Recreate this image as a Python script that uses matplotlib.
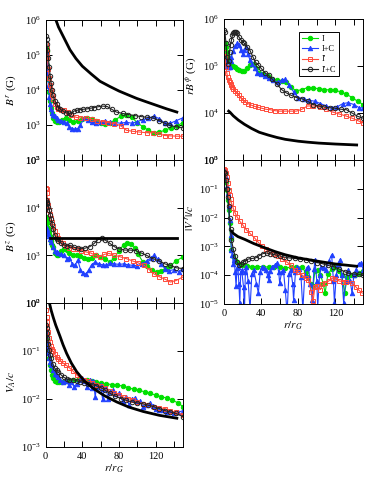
import numpy as np
import matplotlib
matplotlib.use("Agg")
from matplotlib import pyplot as plt
from matplotlib.ticker import LogLocator, NullLocator, MultipleLocator, NullFormatter

plt.rcParams['font.family'] = 'Liberation Serif'
plt.rcParams['mathtext.fontset'] = 'stix'

# ---- data: (r/r_G, log10 value) ----
# B^r panel
br_I = [(0.5,5.2),(1,5.1),(1.5,4.9),(2,4.7),(3,4.3),(4,3.95),(5,3.7),(6,3.5),(7,3.35),(8,3.2),(10,3.12),(12,3.1),(15,3.1),(18,3.15),(22,3.2),(26,3.15),(30,3.1),(35,3.12),(40,3.18),(45,3.2),(50,3.18),(55,3.12),(60,3.05),(65,3.02),(70,3.06),(76,3.15),(82,3.25),(88,3.3),(94,3.22),(100,3.06),(106,2.95),(112,2.85),(118,2.78),(124,2.8),(130,2.85),(137,2.92),(143,2.98),(150,3.07)]
br_IC = [(0.5,5.1),(1,5.0),(1.5,4.75),(2,4.5),(3,4.1),(4,3.8),(5,3.6),(6,3.45),(7,3.35),(8,3.3),(10,3.25),(12,3.2),(14,3.15),(17,3.12),(20,3.1),(23,3.05),(26,2.95),(29,2.9),(32,2.88),(35,2.9),(38,3.0),(42,3.2),(46,3.15),(50,3.1),(55,3.05),(60,3.1),(65,3.12),(70,3.08),(76,3.07),(82,3.05),(88,3.08),(94,3.05),(100,3.1),(106,3.15),(112,3.2),(118,3.25),(124,3.18),(130,3.05),(136,3.05),(142,3.12),(150,3.21)]
br_Ip = [(0.5,5.3),(1,5.2),(1.5,5.05),(2,4.9),(3,4.6),(4,4.35),(5,4.15),(6,4.0),(7,3.85),(8,3.75),(10,3.6),(12,3.52),(14,3.46),(17,3.44),(20,3.42),(24,3.38),(28,3.3),(33,3.22),(38,3.2),(44,3.2),(50,3.16),(56,3.12),(62,3.1),(68,3.07),(75,3.04),(82,2.98),(88,2.85),(95,2.82),(102,2.8),(110,2.78),(117,2.78),(124,2.74),(130,2.7),(136,2.69),(143,2.68),(150,2.68)]
br_IpC = [(0.5,5.55),(1,5.45),(1.5,5.3),(2,5.15),(3,4.9),(4,4.65),(5,4.4),(6,4.2),(7,4.0),(8,3.85),(10,3.7),(12,3.6),(14,3.5),(16,3.45),(19,3.4),(22,3.35),(25,3.33),(28,3.32),(31,3.4),(34,3.42),(37,3.44),(41,3.45),(45,3.46),(49,3.48),(53,3.5),(57,3.52),(62,3.54),(67,3.53),(72,3.45),(77,3.37),(84,3.33),(90,3.3),(97,3.27),(104,3.24),(111,3.22),(117,3.2),(124,3.12),(130,3.05),(135,2.99),(142,2.95),(150,2.92)]
br_model = [(10,6.05),(11.2,6.0),(14,5.8),(19.2,5.53),(26.5,5.15),(33,4.9),(40,4.68),(50,4.45),(59.2,4.25),(70,4.1),(80,3.97),(90,3.86),(99.2,3.76),(110,3.66),(121,3.56),(132,3.46),(143,3.37)]

# r B^phi panel
bp_I = [(0.5,5.5),(1,5.48),(2,5.4),(3,5.3),(4,5.2),(5,5.12),(6,5.08),(8,5.03),(10,5.0),(12,4.98),(14,4.94),(16,4.92),(19,4.9),(22,4.9),(25,4.95),(28,5.03),(31,5.05),(34,4.95),(38,4.86),(42,4.83),(47,4.78),(52,4.72),(57,4.7),(62,4.69),(67,4.65),(72,4.55),(78,4.47),(84,4.5),(90,4.54),(96,4.53),(102,4.52),(108,4.5),(114,4.49),(120,4.48),(126,4.45),(132,4.4),(138,4.33),(144,4.25),(150,4.18)]
bp_IC = [(0.5,5.2),(1,5.15),(2,5.05),(3,5.0),(4,4.98),(5,4.97),(6,4.98),(7,5.1),(8,5.2),(10,5.33),(12,5.42),(14,5.48),(16,5.45),(18,5.35),(20,5.26),(22,5.35),(24,5.4),(26,5.25),(28,5.12),(30,5.05),(33,4.95),(36,4.86),(40,4.82),(44,4.79),(48,4.75),(53,4.7),(58,4.65),(62,4.7),(66,4.72),(70,4.6),(75,4.45),(80,4.33),(86,4.3),(92,4.27),(98,4.25),(104,4.2),(110,4.15),(116,4.11),(122,4.13),(128,4.2),(134,4.22),(140,4.18),(146,4.11),(150,4.11)]
bp_Ip = [(0.5,5.3),(1,5.2),(1.5,5.1),(2,4.97),(3,4.85),(4,4.76),(5,4.7),(6,4.65),(7,4.62),(8,4.6),(9,4.56),(10,4.52),(12,4.46),(14,4.42),(16,4.38),(18,4.32),(20,4.28),(23,4.24),(26,4.2),(29,4.17),(33,4.14),(37,4.12),(41,4.1),(45,4.08),(50,4.07),(55,4.05),(60,4.04),(66,4.04),(72,4.04),(78,4.04),(84,4.08),(90,4.15),(96,4.15),(103,4.13),(110,4.08),(117,4.02),(124,3.98),(131,3.94),(138,3.89),(144,3.84),(150,3.79)]
bp_IpC = [(0.5,5.76),(1,5.72),(2,5.5),(3,5.2),(4,5.05),(5,5.1),(6,5.3),(7,5.45),(8,5.55),(9,5.65),(10,5.7),(11,5.72),(12,5.73),(13,5.72),(14,5.7),(16,5.62),(18,5.56),(20,5.52),(22,5.48),(25,5.4),(28,5.33),(31,5.2),(34,5.08),(37,5.02),(40,4.95),(44,4.86),(48,4.8),(52,4.72),(57,4.62),(62,4.5),(67,4.43),(72,4.38),(78,4.33),(84,4.3),(90,4.25),(96,4.18),(102,4.15),(108,4.13),(114,4.11),(120,4.1),(126,4.08),(132,4.07),(138,4.0),(144,3.93),(150,3.89)]
bp_model = [(5,4.04),(6.5,4.015),(10,3.94),(15.4,3.85),(22,3.76),(29.8,3.67),(38,3.59),(47.8,3.53),(57,3.48),(66,3.44),(80,3.4),(90,3.38),(102,3.36),(120,3.34),(143,3.32)]

# B^z panel
bz_I = [(0.5,3.8),(1,3.77),(1.5,3.72),(2,3.68),(3,3.58),(4,3.49),(5,3.4),(6,3.3),(7,3.22),(8,3.18),(10,3.05),(12,3.0),(14,3.0),(17,3.08),(20,3.14),(23,3.12),(26,3.05),(30,3.0),(34,3.0),(38,2.98),(42,2.95),(46,2.93),(50,2.95),(55,3.0),(60,2.97),(65,2.92),(70,2.86),(75,2.95),(80,3.1),(85,3.22),(89,3.25),(93,3.23),(97,3.15),(101,3.02),(106,2.86),(111,2.78),(116,2.7),(121,2.65),(126,2.68),(131,2.73),(136,2.78),(142,2.88),(150,2.97)]
bz_IC = [(0.5,3.6),(1,3.56),(1.5,3.52),(2,3.5),(3,3.45),(4,3.4),(5,3.34),(6,3.28),(8,3.18),(10,3.1),(12,3.07),(14,3.04),(17,3.02),(20,3.0),(23,2.93),(26,2.95),(29,2.82),(32,2.79),(35,2.9),(38,2.7),(41,2.62),(44,2.61),(47,2.7),(50,2.8),(54,2.86),(58,2.82),(62,2.8),(66,2.79),(70,2.84),(75,2.82),(80,2.81),(85,2.82),(90,2.8),(95,2.79),(100,2.78),(105,2.82),(110,2.88),(115,2.95),(118,3.0),(122,2.92),(126,2.82),(130,2.72),(135,2.68),(140,2.7),(145,2.66),(150,2.72)]
bz_Ip = [(0.5,4.42),(1,4.4),(1.5,4.3),(2,4.15),(3,4.05),(4,3.95),(5,3.87),(6,3.78),(7,3.7),(8,3.62),(10,3.5),(12,3.42),(14,3.36),(16,3.32),(19,3.25),(22,3.2),(26,3.16),(30,3.14),(34,3.13),(39,3.1),(44,3.07),(49,3.05),(54,3.0),(59,2.97),(64,3.02),(69,3.04),(75,3.0),(81,2.97),(88,2.93),(95,2.88),(101,2.84),(107,2.79),(113,2.7),(118,2.61),(124,2.55),(130,2.5),(136,2.44),(142,2.47),(150,2.55)]
bz_IpC = [(0.5,4.15),(1,4.12),(1.5,4.1),(2,4.08),(3,4.02),(4,3.95),(5,3.85),(6,3.77),(7,3.65),(8,3.55),(10,3.42),(12,3.35),(14,3.3),(17,3.25),(20,3.22),(23,3.2),(27,3.21),(31,3.17),(35,3.15),(39,3.14),(43,3.15),(48,3.18),(53,3.25),(57,3.33),(61,3.36),(65,3.32),(70,3.25),(75,3.18),(80,3.14),(86,3.11),(92,3.11),(98,3.1),(104,3.05),(110,3.0),(117,2.93),(124,2.88),(130,2.82),(136,2.79),(142,2.74),(150,2.72)]
bz_model = [(5,3.37),(143,3.37)]

# V_A/c panel
va_I = [(0.5,-0.6),(1,-0.67),(1.5,-0.75),(2,-0.85),(3,-1.0),(4,-1.15),(5,-1.29),(6,-1.4),(7,-1.5),(8,-1.57),(10,-1.62),(12,-1.64),(15,-1.65),(18,-1.64),(22,-1.63),(26,-1.62),(30,-1.61),(35,-1.6),(40,-1.6),(45,-1.61),(50,-1.63),(55,-1.65),(60,-1.67),(66,-1.68),(72,-1.7),(78,-1.71),(84,-1.73),(90,-1.76),(96,-1.8),(102,-1.82),(108,-1.85),(114,-1.88),(120,-1.92),(126,-1.95),(132,-1.98),(138,-2.02),(144,-2.08),(150,-2.16)]
va_IC = [(0.5,-0.6),(1,-0.67),(1.5,-0.8),(2,-0.92),(3,-1.05),(4,-1.15),(5,-1.22),(6,-1.29),(8,-1.4),(10,-1.48),(12,-1.5),(14,-1.55),(16,-1.6),(19,-1.64),(22,-1.62),(25,-1.7),(28,-1.65),(31,-1.74),(34,-1.68),(37,-1.6),(40,-1.57),(43,-1.62),(45,-1.75),(48,-1.6),(50,-1.78),(52,-1.62),(54,-1.95),(56,-1.7),(58,-1.75),(60,-1.71),(62,-1.99),(64,-1.8),(66,-1.78),(68,-2.0),(70,-1.85),(73,-1.82),(76,-1.9),(80,-1.88),(84,-2.05),(88,-1.95),(91,-2.13),(94,-2.0),(97,-1.98),(100,-2.06),(103,-2.04),(106,-2.16),(110,-2.12),(114,-2.09),(117,-2.15),(120,-2.2),(124,-2.23),(128,-2.22),(132,-2.26),(136,-2.25),(140,-2.3),(144,-2.28),(150,-2.24)]
va_Ip = [(0.5,-0.15),(1,-0.3),(1.5,-0.4),(2,-0.5),(3,-0.6),(4,-0.72),(5,-0.82),(6,-0.9),(7,-0.95),(8,-1.0),(10,-1.07),(12,-1.13),(14,-1.17),(16,-1.2),(19,-1.25),(22,-1.29),(26,-1.35),(30,-1.42),(34,-1.5),(38,-1.56),(42,-1.6),(46,-1.63),(50,-1.66),(55,-1.7),(60,-1.73),(65,-1.78),(70,-1.84),(75,-1.88),(80,-1.92),(85,-1.96),(90,-1.99),(95,-2.02),(100,-2.07),(106,-2.1),(112,-2.13),(118,-2.16),(124,-2.18),(130,-2.2),(136,-2.24),(142,-2.28),(150,-2.33)]
va_IpC = [(0.5,-0.45),(1,-0.53),(1.5,-0.62),(2,-0.72),(3,-0.85),(4,-0.98),(5,-1.08),(6,-1.15),(8,-1.27),(10,-1.36),(12,-1.4),(14,-1.44),(17,-1.5),(20,-1.55),(23,-1.58),(26,-1.6),(30,-1.6),(34,-1.62),(38,-1.64),(42,-1.66),(46,-1.68),(50,-1.7),(55,-1.72),(60,-1.76),(65,-1.82),(70,-1.88),(76,-1.94),(82,-1.99),(88,-2.03),(94,-2.06),(100,-2.08),(106,-2.1),(112,-2.13),(118,-2.16),(124,-2.2),(130,-2.24),(136,-2.27),(142,-2.3),(150,-2.37)]
va_model = [(3.9,0.02),(6,-0.15),(8.3,-0.3),(11,-0.46),(13,-0.56),(15.6,-0.69),(19,-0.87),(22.9,-1.05),(28,-1.25),(33.8,-1.43),(42,-1.62),(52,-1.78),(64,-1.93),(77.4,-2.06),(91,-2.17),(106.4,-2.26),(124,-2.34),(143,-2.4)]

# |V^r|/c panel
vr_I = [(0.5,-0.45),(1,-0.5),(2,-0.75),(3,-1.05),(4,-1.4),(5,-1.75),(6,-2.2),(7,-2.7),(8,-3.11),(10,-3.35),(12,-3.46),(14,-3.55),(17,-3.64),(20,-3.66),(25,-3.68),(30,-3.7),(36,-3.7),(42,-3.7),(48,-3.72),(54,-3.72),(60,-3.73),(66,-3.75),(72,-3.72),(78,-3.7),(84,-3.72),(88,-3.9),(91,-4.05),(94,-4.3),(96,-4.39),(98,-3.85),(101,-3.81),(104,-3.99),(107,-4.3),(109,-4.62),(112,-3.95),(116,-3.8),(120,-3.7),(124,-3.85),(127,-3.99),(130,-4.62),(133,-4.05),(137,-3.99),(141,-3.99),(145,-3.92),(150,-3.87)]
vr_IC = [(0.5,-0.3),(1,-0.33),(2,-0.6),(3,-0.9),(4,-1.14),(5,-1.6),(6,-2.1),(7,-2.6),(8,-3.11),(9,-3.3),(10,-3.6),(11,-3.46),(12,-3.9),(13,-4.39),(14,-3.75),(15,-3.7),(16,-4.3),(17,-4.97),(18,-3.9),(19,-3.81),(21,-4.4),(22,-5.3),(23,-3.9),(24,-3.7),(26,-4.2),(28,-5.2),(30,-3.95),(32,-3.81),(35,-4.3),(37,-4.62),(39,-3.9),(41,-3.7),(43,-3.75),(45,-3.81),(47,-4.0),(48,-4.16),(50,-3.85),(52,-3.7),(55,-3.65),(57,-3.58),(59,-3.9),(60,-4.28),(62,-3.9),(64,-3.81),(66,-4.5),(68,-5.3),(70,-3.95),(72,-3.81),(74,-4.3),(75,-4.86),(77,-3.9),(79,-3.7),(81,-3.8),(83,-4.05),(85,-5.2),(87,-4.0),(89,-3.75),(91,-3.7),(93,-4.3),(95,-4.86),(97,-3.8),(98,-3.46),(100,-4.2),(101,-5.1),(103,-4.0),(105,-3.7),(108,-3.75),(110,-3.81),(113,-3.5),(116,-3.29),(118,-4.2),(119,-4.97),(121,-4.0),(123,-3.6),(125,-3.46),(127,-4.0),(129,-4.97),(131,-4.2),(134,-3.81),(136,-4.2),(138,-4.62),(140,-4.0),(142,-3.81),(145,-3.6),(148,-3.58),(150,-3.81)]
vr_Ip = [(0.5,-0.3),(1,-0.33),(2,-0.45),(3,-0.6),(4,-0.8),(5,-1.05),(6,-1.2),(7,-1.35),(8,-1.49),(10,-1.68),(12,-1.84),(14,-1.97),(17,-2.13),(20,-2.25),(24,-2.42),(28,-2.55),(33,-2.71),(37,-2.86),(41,-3.0),(45,-3.1),(48,-3.17),(53,-3.27),(58,-3.35),(63,-3.45),(68,-3.55),(72,-3.65),(76,-3.81),(80,-3.9),(84,-3.99),(88,-4.1),(91,-4.16),(94,-4.57),(96,-4.9),(98,-4.4),(100,-4.39),(104,-4.5),(106,-4.32),(109,-4.28),(113,-4.2),(116,-4.1),(120,-4.12),(124,-4.2),(128,-4.22),(132,-4.25),(138,-4.28),(142,-4.4),(145,-4.51),(149,-4.62)]
vr_IpC = [(0.5,-0.4),(1,-0.45),(2,-0.7),(3,-1.0),(4,-1.3),(5,-1.6),(6,-2.0),(7,-2.4),(8,-2.77),(10,-3.1),(12,-3.35),(14,-3.55),(16,-3.64),(18,-3.6),(20,-3.55),(23,-3.5),(26,-3.44),(30,-3.42),(34,-3.4),(38,-3.32),(42,-3.25),(46,-3.23),(50,-3.26),(55,-3.29),(60,-3.33),(65,-3.37),(70,-3.4),(76,-3.42),(82,-3.44),(88,-3.46),(94,-3.5),(100,-3.56),(106,-3.6),(112,-3.66),(118,-3.7),(124,-3.78),(130,-3.88),(134,-3.93),(140,-3.96),(145,-3.97),(150,-3.99)]
vr_model = [(8.3,-2.47),(10,-2.55),(15,-2.66),(22.6,-2.76),(32,-2.9),(44,-3.05),(55,-3.18),(66,-3.29),(80,-3.4),(102,-3.52),(120,-3.61),(143,-3.69)]

labels = ["I", "I+C", "I'", "I'+C"]
colors = ["#00e000", "#2040ff", "#ff4a3a", "#222222"]
markers = ["o", "^", "s", "o"]
filled = [True, True, False, False]


def draw(ax, series, model, ylim, ylabel, label_y=0.5, xlabels=False):
    for s, lab, c, m, f in zip(series, labels, colors, markers, filled):
        a = np.array(s)
        ax.plot(a[:, 0], 10 ** a[:, 1], color=c, lw=0.8, marker=m, ms=3.2,
                mfc=c if f else 'none', mec=c, mew=0.7, label=lab)
    mm = np.array(model)
    ax.plot(mm[:, 0], 10 ** mm[:, 1], color='k', lw=2.0)
    ax.set_yscale('log')
    ax.set_xlim(0, 150)
    ax.set_ylim(*ylim)
    ax.yaxis.set_major_locator(LogLocator(base=10, numticks=10))
    ax.yaxis.set_minor_locator(NullLocator())
    ax.xaxis.set_major_locator(MultipleLocator(40))
    ax.xaxis.set_minor_locator(MultipleLocator(20))
    ax.tick_params(which='both', direction='in', top=True, right=True,
                   length=4, width=0.7, labelsize=7.5)
    if xlabels:
        ax.set_xlabel(r'$r/r_{\,G}$', fontsize=8, labelpad=1)
    else:
        ax.xaxis.set_major_formatter(NullFormatter())
    ax.set_ylabel(ylabel, fontsize=8)
    ax.yaxis.set_label_coords(-0.2, label_y)
    for sp in ax.spines.values():
        sp.set_linewidth(0.7)


fig = plt.figure(figsize=(3.74, 4.84), dpi=100)
ax1 = fig.add_axes([0.122, 0.6694, 0.368, 0.2893])
ax2 = fig.add_axes([0.122, 0.374, 0.368, 0.2955])
ax3 = fig.add_axes([0.122, 0.0764, 0.368, 0.2975])
ax4 = fig.add_axes([0.599, 0.6694, 0.372, 0.2913])
ax5 = fig.add_axes([0.599, 0.3719, 0.372, 0.2975])

draw(ax1, [br_I, br_IC, br_Ip, br_IpC], br_model, (1e2, 1e6), r'$B^{\,r}$ (G)')
draw(ax2, [bz_I, bz_IC, bz_Ip, bz_IpC], bz_model, (1e2, 1e5), r'$B^{\,z}$ (G)', 0.47)
draw(ax3, [va_I, va_IC, va_Ip, va_IpC], va_model, (1e-3, 1e0), r'$V_A/c$', 0.45, xlabels=True)
draw(ax4, [bp_I, bp_IC, bp_Ip, bp_IpC], bp_model, (1e3, 1e6), r'$rB^{\,\phi}$ (G)', 0.6)
draw(ax5, [vr_I, vr_IC, vr_Ip, vr_IpC], vr_model, (1e-5, 1e0), r'$|V^{\,r}|/c$', 0.6, xlabels=True)
ax4.yaxis.set_label_coords(-0.19, 0.6)

leg = ax4.legend(loc='upper left', bbox_to_anchor=(0.54, 0.905), fontsize=6,
                 handlelength=1.9, handletextpad=0.4, borderpad=0.35,
                 labelspacing=0.25, borderaxespad=0, fancybox=False, framealpha=1)
leg.get_frame().set_edgecolor('k')
leg.get_frame().set_linewidth(0.7)

plt.savefig('out.png', dpi=100)
